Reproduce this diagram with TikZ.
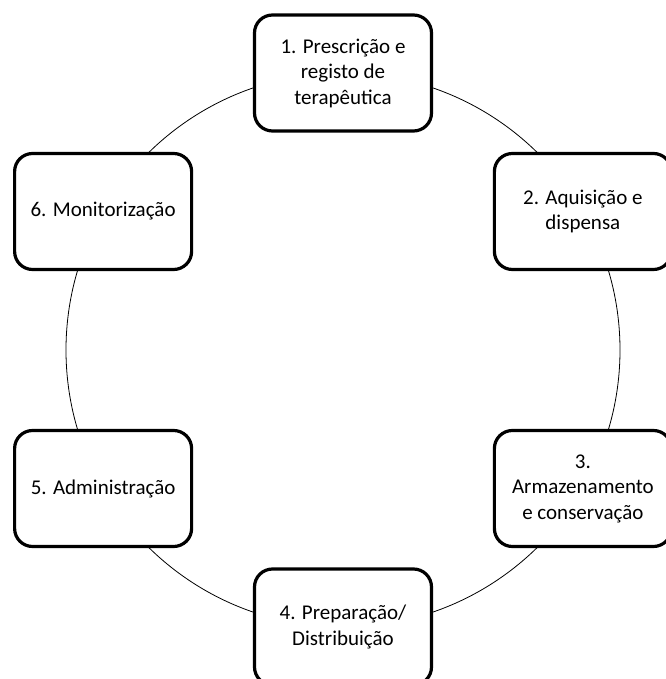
\documentclass[tikz,border=0pt]{standalone}
\usepackage{fontspec}
\setmainfont{Carlito}
\usepackage{tikz}

\begin{document}
\begin{tikzpicture}[
    x=1pt,y=1pt,
    stage/.style={draw,line width=3.2pt,rounded corners=18pt,fill=white,
      minimum width=177pt,minimum height=116pt,align=center,
      font=\fontsize{21}{25.5}\selectfont,inner sep=4pt},
    ring/.style={line width=0.8pt}
  ]
    \useasboundingbox (-343,-329) rectangle (322,350);
    \coordinate (centre) at (0,0);
    \draw[ring] (centre) circle (277);
    \node[stage] (presc) at (90:277) {1. Prescrição e\\registo de\\terapêutica};
    \node[stage] (aquis) at (30:277) {2. Aquisição e\\dispensa};
    \node[stage] (armaz) at (-30:277) {3.\\Armazenamento\\e conservação};
    \node[stage] (prep) at (-90:277) {4. Preparação/\\Distribuição};
    \node[stage] (admin) at (-150:277) {5. Administração};
    \node[stage] (monit) at (150:277) {6. Monitorização};
  \end{tikzpicture}
\end{document}
